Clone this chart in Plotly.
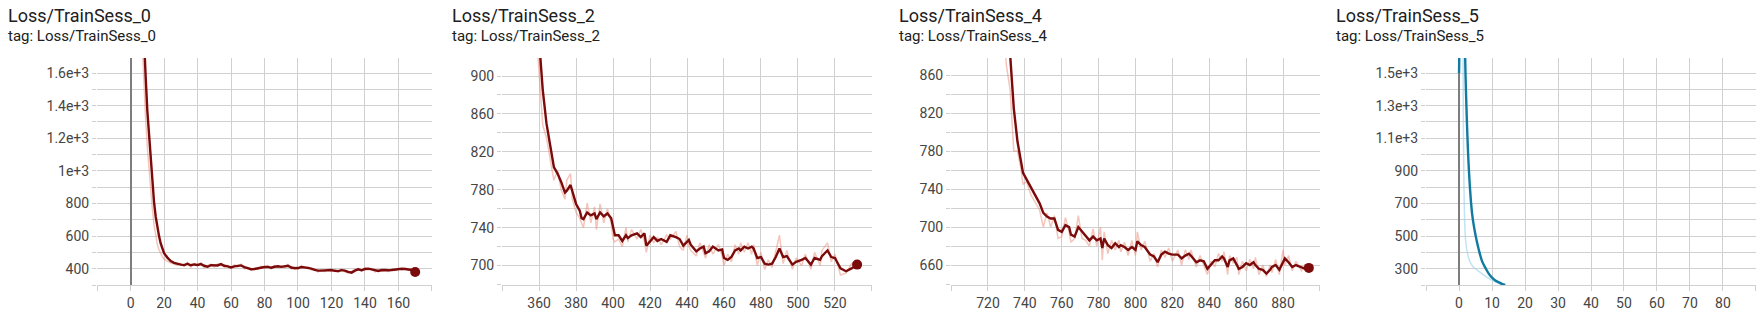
import plotly.graph_objects as go

W, H = 1762, 319

# ---------------- data ----------------
titles = ["Loss/TrainSess_0", "Loss/TrainSess_2", "Loss/TrainSess_4", "Loss/TrainSess_5"]
subtitles = ["tag: Loss/TrainSess_0", "tag: Loss/TrainSess_2", "tag: Loss/TrainSess_4", "tag: Loss/TrainSess_5"]

# Panel 0
s0_x = [6, 8, 9, 10, 11, 12, 13, 14, 15, 16, 17, 18, 19, 20, 22, 24, 26, 28, 30, 32, 34, 36, 38, 40,
        42, 44, 46, 48, 50, 52, 54, 56, 58, 60, 62, 64, 66, 68, 70, 72, 74, 76, 78, 80, 82, 84, 86, 88,
        90, 92, 94, 96, 98, 100, 102, 104, 106, 108, 110, 112, 114, 116, 118, 120, 122, 124, 126, 128,
        130, 132, 134, 136, 138, 140, 142, 144, 146, 148, 150, 152, 154, 156, 158, 160, 162, 164, 166,
        168, 170]
s0_smooth = [2300, 1760, 1580, 1370, 1215, 1090, 950, 810, 720, 650, 600, 555, 520, 495, 468, 447, 436,
             429, 425, 422, 430, 421, 426, 423, 428, 418, 412, 422, 419, 420, 428, 418, 414, 408, 414,
             416, 420, 410, 402, 397, 398, 402, 408, 410, 411, 406, 412, 415, 411, 415, 418, 407, 403,
             404, 410, 408, 405, 400, 393, 388, 388, 389, 388, 392, 387, 385, 391, 388, 380, 376, 388,
             396, 390, 398, 400, 396, 388, 386, 392, 389, 390, 392, 395, 396, 400, 398, 396, 392, 380]
s0_raw = [2000, 1500, 1320, 1150, 1010, 880, 770, 670, 600, 548, 515, 492, 474, 458, 444, 434, 428,
          420, 432, 414, 438, 410, 432, 416, 436, 406, 420, 428, 410, 430, 422, 410, 420, 400, 424,
          410, 428, 398, 408, 390, 404, 396, 416, 404, 418, 398, 420, 408, 418, 406, 426, 398, 410,
          396, 418, 400, 412, 392, 398, 380, 394, 382, 396, 384, 392, 378, 398, 380, 372, 384, 396,
          402, 384, 406, 394, 402, 380, 394, 386, 398, 382, 398, 388, 402, 394, 404, 390, 398, 376]

# Panel 2
s2_x = [358, 360, 362, 364, 366, 368, 370, 372, 374, 375, 377, 378, 380, 382, 383, 384, 386, 388, 390,
        391, 393, 395, 397, 399, 400, 401, 403, 405, 407, 408, 410, 413, 415, 417, 418, 420, 422, 424,
        426, 429, 431, 434, 436, 438, 440, 441, 442, 445, 447, 449, 450, 452, 454, 457, 459, 460, 462,
        464, 466, 468, 469, 471, 473, 475, 476, 478, 480, 482, 484, 486, 488, 490, 492, 494, 497, 499,
        502, 504, 507, 509, 512, 513, 516, 518, 520, 523, 526, 529, 532]
s2_smooth = [990, 932, 885, 850, 825, 804, 797, 788, 777, 779, 785, 778, 765, 758, 750, 749, 756, 753,
             755, 749, 756, 752, 755, 750, 740, 732, 732, 726, 732, 729, 732, 734, 730, 734, 721, 726,
             730, 726, 728, 725, 732, 730, 728, 721, 725, 727, 722, 715, 718, 720, 713, 715, 720, 716,
             717, 708, 706, 709, 716, 718, 716, 720, 718, 720, 718, 708, 709, 702, 701, 702, 709, 718,
             709, 710, 701, 704, 706, 708, 701, 708, 706, 710, 716, 709, 708, 697, 694, 697, 701]
s2_raw = [960, 900, 848, 835, 812, 790, 800, 780, 770, 790, 797, 770, 756, 750, 745, 740, 766, 745, 762,
          738, 765, 745, 760, 745, 728, 725, 728, 720, 740, 725, 738, 728, 738, 725, 714, 732, 724, 730,
          722, 732, 728, 736, 720, 716, 732, 720, 716, 710, 724, 714, 708, 722, 712, 722, 710, 700, 712,
          704, 722, 712, 724, 714, 724, 712, 722, 700, 714, 696, 706, 698, 714, 732, 702, 716, 696, 708,
          700, 712, 696, 714, 700, 716, 724, 704, 712, 690, 692, 702, 704]

# Panel 4
s4_x = [728, 730, 732, 734, 736, 738, 739, 741, 743, 746, 748, 750, 752, 754, 756, 758, 760, 762, 764,
        765, 767, 769, 771, 773, 775, 777, 779, 781, 782, 783, 785, 787, 789, 791, 792, 794, 796, 798,
        800, 801, 803, 805, 808, 810, 812, 814, 816, 818, 820, 823, 825, 827, 829, 830, 833, 835, 837,
        839, 841, 843, 845, 847, 848, 850, 851, 853, 855, 856, 858, 860, 862, 864, 865, 867, 869, 871,
        873, 874, 876, 878, 880, 881, 883, 885, 887, 890, 892, 894]
s4_smooth = [960, 915, 882, 825, 790, 770, 757, 750, 743, 732, 725, 715, 711, 709, 709, 697, 695, 702,
             700, 692, 690, 700, 695, 690, 686, 690, 686, 688, 678, 688, 681, 678, 683, 679, 681, 679,
             676, 679, 676, 685, 681, 679, 671, 669, 663, 671, 674, 672, 671, 671, 667, 670, 672, 670,
             663, 665, 664, 656, 660, 665, 665, 669, 667, 658, 665, 667, 660, 656, 658, 662, 660, 663,
             660, 656, 655, 651, 655, 658, 660, 655, 663, 667, 663, 658, 660, 658, 656, 657]
s4_raw = [920, 870, 845, 780, 780, 760, 745, 748, 735, 725, 718, 700, 715, 700, 712, 688, 690, 710,
          695, 684, 688, 712, 688, 686, 680, 698, 680, 700, 665, 695, 672, 686, 676, 686, 674, 684,
          670, 686, 670, 695, 676, 685, 664, 672, 658, 676, 668, 678, 664, 676, 660, 676, 666, 676,
          658, 670, 660, 650, 664, 658, 672, 664, 674, 650, 670, 662, 668, 650, 664, 654, 666, 656,
          668, 650, 660, 648, 660, 652, 666, 650, 676, 660, 670, 654, 664, 654, 660, 655]

# Panel 5
s5_x = [0, 1, 2, 3, 4, 5, 6, 7, 8, 9, 10, 11, 12, 13, 14]
s5_smooth = [1500, 2600, 1460, 900, 630, 505, 415, 345, 305, 270, 245, 228, 217, 207, 200]
s5_raw = [1500, 2200, 470, 360, 318, 298, 284, 268, 254, 240, 228, 219, 210, 204, 198]

# y tick labels
y0_vals = [400, 600, 800, 1000, 1200, 1400, 1600]
y0_text = ["400", "600", "800", "1e+3", "1.2e+3", "1.4e+3", "1.6e+3"]
y2_vals = [700, 740, 780, 820, 860, 900]
y4_vals = [660, 700, 740, 780, 820, 860]
y5_vals = [300, 500, 700, 900, 1100, 1300, 1500]
y5_text = ["300", "500", "700", "900", "1.1e+3", "1.3e+3", "1.5e+3"]

x0_vals = [0, 20, 40, 60, 80, 100, 120, 140, 160]
x2_vals = [360, 380, 400, 420, 440, 460, 480, 500, 520]
x4_vals = [720, 740, 760, 780, 800, 820, 840, 860, 880]
x5_vals = [0, 10, 20, 30, 40, 50, 60, 70, 80]

# ---------------- layout geometry ----------------
DARK = "#7b0a0a"
RAW = "rgba(232,140,120,0.5)"
TEAL = "#117aa0"
TEAL_RAW = "rgba(150,210,235,0.6)"
GRID = "#d0d0d0"
FONT = "Roboto, Arial, sans-serif"
TICKF = dict(family=FONT, size=14, color="#454545")

panels = [
    dict(px=(97, 432), xr=[-20.05, 180.05], xv=x0_vals, xm=[-20, 180],
         yr=[300, 1692], yv=y0_vals, yt=y0_text, ym=[300, 500, 700, 900, 1100, 1300, 1500],
         x=s0_x, s=s0_smooth, r=s0_raw, c=DARK, rc=RAW, zero=True, tx=6, marker=True),
    dict(px=(502, 872), xr=[339.95, 540.05], xv=x2_vals, xm=[340, 540],
         yr=[679.5, 919], yv=y2_vals, yt=[str(v) for v in y2_vals], ym=[680, 720, 760, 800, 840, 880],
         x=s2_x, s=s2_smooth, r=s2_raw, c=DARK, rc=RAW, zero=False, tx=450, marker=True),
    dict(px=(951, 1320), xr=[699.95, 900.05], xv=x4_vals, xm=[700, 900],
         yr=[639, 878], yv=y4_vals, yt=[str(v) for v in y4_vals], ym=[640, 680, 720, 760, 800, 840],
         x=s4_x, s=s4_smooth, r=s4_raw, c=DARK, rc=RAW, zero=False, tx=897, marker=True),
    dict(px=(1426, 1756), xr=[-10.02, 90.02], xv=x5_vals, xm=[-10, 90],
         yr=[200, 1592], yv=y5_vals, yt=y5_text, ym=[200, 400, 600, 800, 1000, 1200, 1400],
         x=s5_x, s=s5_smooth, r=s5_raw, c=TEAL, rc=TEAL_RAW, zero=True, tx=1334, marker=False),
]

PLOT_TOP, PLOT_BOT = 58, 285
ydom = [1 - PLOT_BOT / H, 1 - PLOT_TOP / H]

fig = go.Figure()
annotations = []
for i, p in enumerate(panels):
    n = "" if i == 0 else str(i + 1)
    xa, ya = "x" + n, "y" + n
    shape = "spline" if not p["marker"] else "linear"
    fig.add_trace(go.Scatter(x=p["x"], y=p["r"], mode="lines", xaxis=xa, yaxis=ya,
                             line=dict(color=p["rc"], width=1.5, shape=shape), hoverinfo="skip",
                             showlegend=False))
    fig.add_trace(go.Scatter(x=p["x"], y=p["s"], mode="lines", xaxis=xa, yaxis=ya,
                             line=dict(color=p["c"], width=2.4, shape=shape), showlegend=False))
    if p["marker"]:
        fig.add_trace(go.Scatter(x=[p["x"][-1]], y=[p["s"][-1]], mode="markers", xaxis=xa, yaxis=ya,
                                 marker=dict(color=p["c"], size=10), showlegend=False))
    fig.layout["xaxis" + n] = dict(
        domain=[p["px"][0] / W, p["px"][1] / W], range=p["xr"], anchor=ya,
        tickvals=p["xv"], ticktext=[str(v) for v in p["xv"]],
        showgrid=True, gridcolor=GRID, gridwidth=1,
        zeroline=p["zero"], zerolinecolor="#7d7d7d", zerolinewidth=2,
        showline=True, linecolor=GRID, linewidth=1,
        ticks="outside", ticklen=5, tickcolor=GRID, tickfont=TICKF,
        minor=dict(tickvals=p["xm"], showgrid=True, gridcolor=GRID, ticks="outside",
                   ticklen=5, tickcolor=GRID),
        fixedrange=True,
    )
    fig.layout["yaxis" + n] = dict(
        domain=ydom, range=p["yr"], anchor=xa,
        tickvals=p["yv"], ticktext=p["yt"],
        showgrid=True, gridcolor=GRID, gridwidth=1, zeroline=False,
        showline=False, ticks="outside", ticklen=4, tickcolor=GRID, tickfont=TICKF,
        minor=dict(tickvals=p["ym"], showgrid=True, gridcolor=GRID, ticks="outside",
                   ticklen=4, tickcolor=GRID),
        fixedrange=True,
    )
    annotations.append(dict(x=p["tx"] / W, y=1 - 15 / H, xref="paper", yref="paper",
                            xanchor="left", yanchor="middle", showarrow=False, text=titles[i],
                            font=dict(family=FONT, size=18, color="#202020")))
    annotations.append(dict(x=p["tx"] / W, y=1 - 36 / H, xref="paper", yref="paper",
                            xanchor="left", yanchor="middle", showarrow=False, text=subtitles[i],
                            font=dict(family=FONT, size=15, color="#202020")))

fig.update_layout(width=W, height=H, margin=dict(l=0, r=0, t=0, b=0),
                  paper_bgcolor="white", plot_bgcolor="white", annotations=annotations,
                  showlegend=False)

fig.write_html("out.html", config={"displayModeBar": False},
               post_script="document.body.style.margin='0';document.body.style.overflow='hidden';")
